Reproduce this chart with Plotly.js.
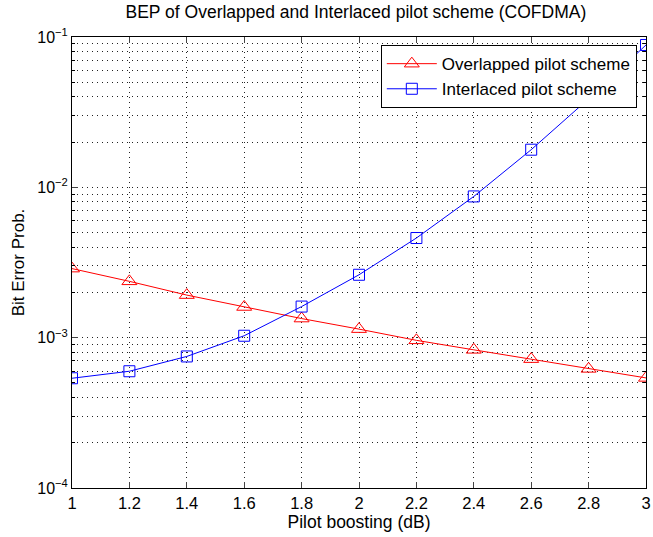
<!DOCTYPE html>
<html><head><meta charset="utf-8">
<script src="https://cdn.plot.ly/plotly-3.0.1.min.js"></script>
<style>html,body{margin:0;padding:0;background:#fff;}#chart{width:653px;height:537px;}</style>
</head><body><div id="chart"></div>
<script>
const pilotBoost = [1, 1.2, 1.4, 1.6, 1.8, 2, 2.2, 2.4, 2.6, 2.8, 3];
const overlapped = [2.88e-3, 2.37e-3, 1.92e-3, 1.60e-3, 1.34e-3, 1.14e-3, 9.6e-4, 8.3e-4, 7.2e-4, 6.2e-4, 5.4e-4];
const interlaced = [5.37e-4, 5.98e-4, 7.5e-4, 1.03e-3, 1.61e-3, 2.62e-3, 4.6e-3, 8.7e-3, 1.78e-2, 3.88e-2, 8.85e-2];
const xTicks = [1, 1.2, 1.4, 1.6, 1.8, 2, 2.2, 2.4, 2.6, 2.8, 3];
const xTickText = ['1', '1.2', '1.4', '1.6', '1.8', '2', '2.2', '2.4', '2.6', '2.8', '3'];
const yTicks = [1e-4, 1e-3, 1e-2, 1e-1];
const yTickText = ['10<sup>−4</sup>', '10<sup>−3</sup>', '10<sup>−2</sup>', '10<sup>−1</sup>'];
const yMinorMantissas = [2, 3, 4, 5, 6, 7, 8, 9];
const yDecades = [1e-4, 1e-3, 1e-2];

const yMinor = [];
yDecades.forEach(d => yMinorMantissas.forEach(m => yMinor.push(m * d)));

const font = 'Liberation Sans, Arial, Helvetica, sans-serif';
const gridDash = '1px,4px';
const gridColor = '#222';
const traces = [
  {x: pilotBoost, y: overlapped, name: 'Overlapped pilot scheme', mode: 'lines+markers',
   line: {color: '#ff0000', width: 1}, marker: {symbol: 'triangle-up-open', size: 13, color: '#ff0000', line: {width: 1}}},
  {x: pilotBoost, y: interlaced, name: 'Interlaced pilot scheme', mode: 'lines+markers',
   line: {color: '#0000ff', width: 1}, marker: {symbol: 'square-open', size: 11, color: '#0000ff', line: {width: 1}}}
];
const layout = {
  width: 653, height: 537,
  margin: {l: 72, r: 7, t: 37, b: 49},
  paper_bgcolor: '#fff', plot_bgcolor: '#fff',
  font: {family: font, size: 16, color: '#000'},
  title: {text: 'BEP of Overlapped and Interlaced pilot scheme (COFDMA)', font: {size: 17.5, family: font}, x: 0.545, xanchor: 'center', y: 0.99, yanchor: 'top'},
  xaxis: {range: [1, 3], tickvals: xTicks, ticktext: xTickText, ticks: 'inside', ticklen: 6, mirror: 'allticks',
    showline: true, linecolor: '#000', linewidth: 1, showgrid: true, gridcolor: gridColor, griddash: gridDash, gridwidth: 1,
    zeroline: false, tickfont: {size: 16.5}, title: {text: 'Pilot boosting (dB)', font: {size: 17.5}, standoff: 2}},
  yaxis: {type: 'log', range: [-4, -1], tickvals: yTicks, ticktext: yTickText, ticks: 'inside', ticklen: 6, mirror: 'allticks',
    showline: true, linecolor: '#000', linewidth: 1, showgrid: true, gridcolor: gridColor, griddash: gridDash, gridwidth: 1,
    zeroline: false, tickfont: {size: 16},
    minor: {tickvals: yMinor, ticks: 'inside', ticklen: 3, tickcolor: '#000', showgrid: true, gridcolor: gridColor, griddash: gridDash, gridwidth: 1},
    title: {text: 'Bit Error Prob.', font: {size: 17}, standoff: 8}},
  legend: {x: 0.984, xanchor: 'right', y: 0.982, yanchor: 'top', bgcolor: '#fff', bordercolor: '#000', borderwidth: 1,
    font: {size: 17}, tracegroupgap: 0, itemwidth: 50},
  showlegend: true
};
Plotly.newPlot('chart', traces, layout, {displayModeBar: false, staticPlot: true});
</script></body></html>
